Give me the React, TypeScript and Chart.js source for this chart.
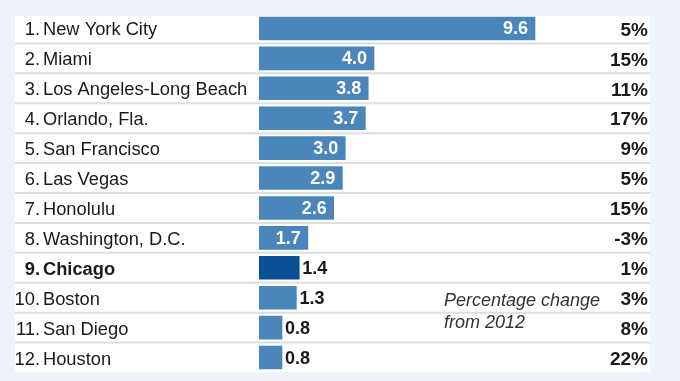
import React, { useEffect, useRef } from "react";
import { Chart, registerables } from "chart.js";

Chart.register(...registerables);

const ranks = ["1.", "2.", "3.", "4.", "5.", "6.", "7.", "8.", "9.", "10.", "11.", "12."];
const cities = [
  "New York City",
  "Miami",
  "Los Angeles-Long Beach",
  "Orlando, Fla.",
  "San Francisco",
  "Las Vegas",
  "Honolulu",
  "Washington, D.C.",
  "Chicago",
  "Boston",
  "San Diego",
  "Houston",
];
const visitors = [9.6, 4.0, 3.8, 3.7, 3.0, 2.9, 2.6, 1.7, 1.4, 1.3, 0.8, 0.8];
const changes = ["5%", "15%", "11%", "17%", "9%", "5%", "15%", "-3%", "1%", "3%", "8%", "22%"];
const highlightCity = "Chicago";
const noteLines = ["Percentage change", "from 2012"];

const BAR = "#4a86b9";
const BAR_HI = "#0a5094";
const FONT = "'Liberation Sans', Arial, Helvetica, sans-serif";

export default function App() {
  const ref = useRef<HTMLCanvasElement | null>(null);

  useEffect(() => {
    const canvas = ref.current;
    if (!canvas) return;

    const panelPlugin = {
      id: "panel",
      beforeDraw(chart: any) {
        const { ctx, scales } = chart;
        const y = scales.y;
        ctx.save();
        ctx.fillStyle = "#eef2fa";
        ctx.fillRect(0, 0, chart.width, chart.height);
        ctx.fillStyle = "#ffffff";
        ctx.fillRect(15, 16, 635, 356);
        ctx.strokeStyle = "#dedede";
        ctx.lineWidth = 2;
        for (let i = 0; i < cities.length - 1; i++) {
          const yy = (y.getPixelForValue(i) + y.getPixelForValue(i + 1)) / 2;
          ctx.beginPath();
          ctx.moveTo(15, yy);
          ctx.lineTo(650, yy);
          ctx.stroke();
        }
        ctx.restore();
      },
    };

    const labelPlugin = {
      id: "labels",
      afterDatasetsDraw(chart: any) {
        const { ctx, scales } = chart;
        const x = scales.x;
        const y = scales.y;
        ctx.save();
        ctx.textBaseline = "middle";
        for (let i = 0; i < cities.length; i++) {
          const yc = y.getPixelForValue(i) + 2;
          const hi = cities[i] === highlightCity;
          ctx.fillStyle = "#1a1a1a";
          ctx.font = `${hi ? "bold " : ""}18.3px ${FONT}`;
          ctx.textAlign = "right";
          ctx.fillText(ranks[i], 40, yc);
          ctx.textAlign = "left";
          ctx.fillText(cities[i], 43, yc);

          ctx.font = `bold 19px ${FONT}`;
          ctx.textAlign = "right";
          ctx.fillStyle = "#1a1a1a";
          ctx.fillText(changes[i], 648, yc);

          ctx.font = `bold 18px ${FONT}`;
          const xe = x.getPixelForValue(visitors[i]);
          const txt = visitors[i].toFixed(1);
          if (visitors[i] >= 1.5) {
            ctx.fillStyle = "#ffffff";
            ctx.textAlign = "right";
            ctx.fillText(txt, xe - 7, yc - 1);
          } else {
            ctx.fillStyle = "#1a1a1a";
            ctx.textAlign = "left";
            ctx.fillText(txt, xe + 3, yc - 1);
          }
        }
        ctx.font = `italic 18px ${FONT}`;
        ctx.fillStyle = "#333333";
        ctx.textAlign = "left";
        const y10 = y.getPixelForValue(9);
        ctx.fillText(noteLines[0], 444, y10 + 3);
        ctx.fillText(noteLines[1], 444, y10 + 25);
        ctx.restore();
      },
    };

    const chart = new Chart(canvas, {
      type: "bar",
      data: {
        labels: cities,
        datasets: [
          {
            data: visitors,
            backgroundColor: cities.map((c) => (c === highlightCity ? BAR_HI : BAR)),
            borderWidth: 0,
            barThickness: 23,
          },
        ],
      },
      options: {
        indexAxis: "y",
        responsive: false,
        animation: false,
        devicePixelRatio: 1,
        layout: { padding: { left: 259, right: 30, top: 13.5, bottom: 8.5 } },
        scales: {
          x: { display: false, min: 0, max: 13.6 },
          y: { display: false, grid: { display: false } },
        },
        plugins: {
          legend: { display: false },
          tooltip: { enabled: false },
          title: { display: false },
        },
      },
      plugins: [panelPlugin, labelPlugin],
    } as any);

    return () => chart.destroy();
  }, []);

  return (
    <div
      style={{
        position: "fixed",
        left: 0,
        top: 0,
        width: 680,
        height: 381,
        background: "#eef2fa",
      }}
    >
      <canvas ref={ref} width={680} height={381} style={{ display: "block" }} />
    </div>
  );
}
